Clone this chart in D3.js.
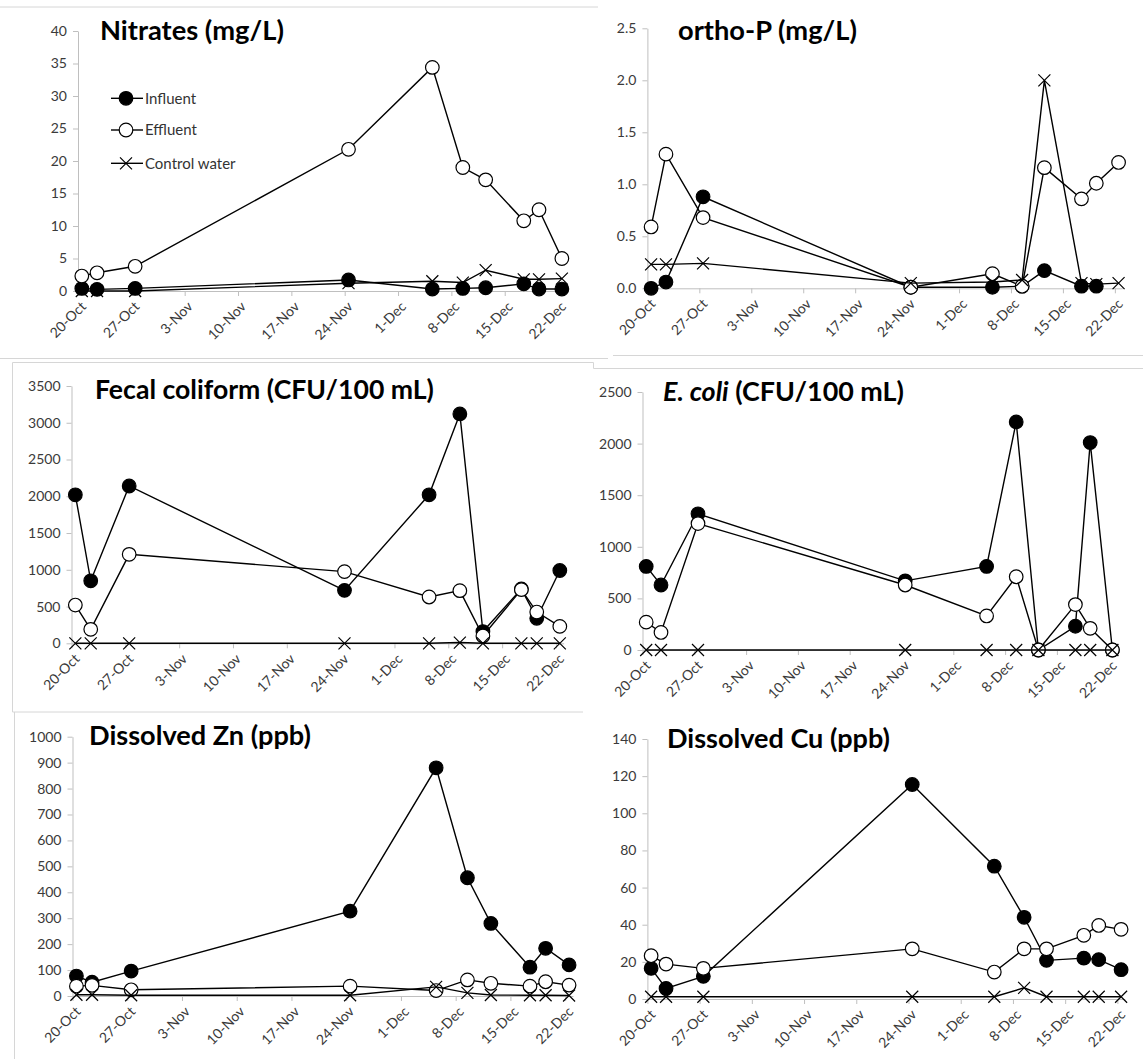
<!DOCTYPE html>
<html>
<head>
<meta charset="utf-8">
<script src="https://cdn.jsdelivr.net/npm/d3@7"></script>
<style>
  body { margin: 0; background: #fff; }
  svg { display: block; }
</style>
</head>
<body>
<svg id="fig" width="1143" height="1059"></svg>
<script>
// ── data ──────────────────────────────────────────
const sampleDates = ['20-Oct', '22-Oct', '27-Oct', '24-Nov', '5-Dec', '9-Dec', '12-Dec', '17-Dec', '19-Dec', '22-Dec'];
const tickDates   = ['20-Oct', '27-Oct', '3-Nov', '10-Nov', '17-Nov', '24-Nov', '1-Dec', '8-Dec', '15-Dec', '22-Dec'];
const seriesNames = ['Influent', 'Effluent', 'Control water'];

const nitratesInfluent = [0.4, 0.25, 0.4, 1.7, 0.3, 0.4, 0.5, 1.1, 0.3, 0.3];
const nitratesEffluent = [2.3, 2.8, 3.8, 21.8, 34.4, 19.0, 17.1, 10.8, 12.5, 5.0];
const nitratesControl  = [0, 0, 0, 1.2, 1.5, 1.3, 3.2, 1.8, 1.8, 1.9];

const orthoPInfluent = [0.0, 0.06, 0.88, 0.01, 0.01, 0.02, 0.17, 0.02, 0.02, null];
const orthoPEffluent = [0.59, 1.29, 0.68, 0.01, 0.14, 0.02, 1.16, 0.86, 1.01, 1.21];
const orthoPControl  = [0.23, 0.23, 0.24, 0.05, 0.06, 0.08, 2.0, 0.05, 0.04, 0.05];

const fecalInfluent = [2020, 850, 2140, 720, 2020, 3120, 160, 740, 340, 990];
const fecalEffluent = [520, 190, 1210, 975, 630, 716, 100, 730, 425, 230];
const fecalControl  = [0, 0, 0, 0, 0, 10, 0, 0, 0, 0];

const ecoliInfluent = [810, 630, 1320, 670, 810, 2210, 0, 230, 2010, 0];
const ecoliEffluent = [270, 170, 1225, 630, 330, 710, 0, 440, 210, 0];
const ecoliControl  = [0, 0, 0, 0, 0, 0, 0, 0, 0, 0];

const znInfluent = [77, 53, 96, 327, 880, 456, 280, 111, 184, 120];
const znEffluent = [38, 41, 24, 38, 21, 62, 49, 38, 55, 42];
const znControl  = [5, 5, 3, 3, 35, 12, 4, 3, 3, 2];

const cuInfluent = [16.5, 5.7, 12.2, 115.5, 71.5, 44, 20.8, 22, 21.2, 15.8];
const cuEffluent = [23.3, 18.8, 16.5, 27, 14.5, 27, 27, 34.3, 39.6, 37.5];
const cuControl  = [1.2, 1.2, 1.2, 1.2, 1.2, 6, 1.2, 1.2, 1.2, 1.2];

// ── layout ────────────────────────────────────────
const panels = [
  { title: ['Nitrates (mg/L)'], series: [nitratesInfluent, nitratesEffluent, nitratesControl],
    x0: 78, perDay: 7.62, yTop: 31, yBot: 291, yMax: 40, yStep: 5, fmt: 'd',
    tx: 100, ty: 40, tw: 184, legend: true },
  { title: ['ortho-P (mg/L)'], series: [orthoPInfluent, orthoPEffluent, orthoPControl],
    x0: 647.4, perDay: 7.42, yTop: 28.3, yBot: 288.3, yMax: 2.5, yStep: 0.5, fmt: '.1f',
    tx: 678, ty: 39.5, tw: 179 },
  { title: ['Fecal coliform (CFU/100 mL)'], series: [fecalInfluent, fecalEffluent, fecalControl],
    x0: 71.5, perDay: 7.69, yTop: 386, yBot: 643.3, yMax: 3500, yStep: 500, fmt: 'd',
    tx: 95, ty: 398.5, tw: 339 },
  { title: ['E. coli', ' (CFU/100 mL)'], series: [ecoliInfluent, ecoliEffluent, ecoliControl],
    x0: 642.5, perDay: 7.40, yTop: 392, yBot: 650, yMax: 2500, yStep: 500, fmt: 'd',
    tx: 663, ty: 401, tw: 241 },
  { title: ['Dissolved Zn (ppb)'], series: [znInfluent, znEffluent, znControl],
    x0: 72.5, perDay: 7.82, yTop: 736.7, yBot: 996, yMax: 1000, yStep: 100, fmt: 'd',
    tx: 89, ty: 745, tw: 222 },
  { title: ['Dissolved Cu (ppb)'], series: [cuInfluent, cuEffluent, cuControl],
    x0: 647.4, perDay: 7.46, yTop: 739, yBot: 999, yMax: 140, yStep: 20, fmt: 'd',
    tx: 667, ty: 747.5, tw: 223 },
];

// faint chart-area borders peeking out between the pasted charts
const frameLines = [
  [[0, 7], [598, 7]],
  [[0, 358.5], [608, 358.5]],
  [[613, 355.5], [1143, 355.5]],
  [[12.5, 362.5], [593.5, 362.5]],
  [[593.5, 362.5], [593.5, 368.5]],
  [[593.5, 368.5], [1143, 368.5]],
  [[12.5, 362.5], [12.5, 712]],
  [[12.5, 712], [583, 712]],
  [[14.5, 712], [14.5, 1059]],
];

const FONT = 'Lato, "Open Sans", sans-serif';
const AXIS = '#bfbfbf';
const LABEL = '#3a3a3a';

const parseDay = s => d3.utcParse('%d-%b-%Y')(s + '-2013');
const halfDay = d => d3.utcHour.offset(d, 12);
const dates = sampleDates.map(parseDay);
const ticks = tickDates.map(parseDay);

const svg = d3.select('#fig');

svg.append('g').selectAll('path').data(frameLines).join('path')
  .attr('d', d => d3.line()(d))
  .attr('fill', 'none').attr('stroke', '#d6d6d6').attr('stroke-width', 1);

function drawMarker(g, kind) {
  if (kind === 2) {
    g.append('path').attr('d', 'M-6,-6L6,6M-6,6L6,-6')
      .attr('stroke', '#000').attr('stroke-width', 1.2).attr('fill', 'none');
  } else {
    g.append('circle').attr('r', 6.8)
      .attr('fill', kind === 0 ? '#000' : '#fff')
      .attr('stroke', '#000').attr('stroke-width', 1.2);
  }
}

panels.forEach(p => {
  const g = svg.append('g');
  const start = parseDay('20-Oct');
  const end = d3.utcDay.offset(parseDay('22-Dec'), 1);
  const x = d3.scaleUtc().domain([start, end]).range([p.x0, p.x0 + 64 * p.perDay]);
  const y = d3.scaleLinear().domain([0, p.yMax]).range([p.yBot, p.yTop]);
  const yTicks = d3.range(0, p.yMax + p.yStep / 2, p.yStep);

  // y axis
  const ya = g.append('g').attr('transform', `translate(${p.x0},0)`)
    .call(d3.axisLeft(y).tickValues(yTicks).tickSize(5).tickSizeOuter(0).tickPadding(6)
      .tickFormat(d3.format(p.fmt)));
  ya.select('.domain').attr('stroke', AXIS);
  ya.selectAll('.tick line').attr('stroke', AXIS);
  ya.selectAll('.tick text').attr('font-family', FONT).attr('font-size', 14).attr('fill', LABEL);

  // x axis
  const xa = g.append('g').attr('transform', `translate(0,${p.yBot})`)
    .call(d3.axisBottom(x).tickValues(ticks).tickSize(5).tickSizeOuter(0)
      .tickFormat(d3.utcFormat('%-d-%b')));
  xa.select('.domain').attr('stroke', AXIS);
  xa.selectAll('.tick line').attr('stroke', AXIS);
  xa.selectAll('.tick text')
    .attr('font-family', FONT).attr('font-size', 14).attr('fill', LABEL)
    .attr('x', 0).attr('y', 0).attr('dy', '0.35em')
    .attr('text-anchor', 'end')
    .attr('transform', 'translate(5,13) rotate(-45)');

  // series: line then markers, in series order
  p.series.forEach((vals, k) => {
    const pts = vals.map((v, i) => ({ d: halfDay(dates[i]), v })).filter(o => o.v !== null);
    g.append('path').datum(pts)
      .attr('d', d3.line().x(o => x(o.d)).y(o => y(o.v)))
      .attr('fill', 'none').attr('stroke', '#000').attr('stroke-width', 1.4);
    g.append('g').selectAll('g').data(pts).join('g')
      .attr('transform', o => `translate(${x(o.d)},${y(o.v)})`)
      .each(function () { drawMarker(d3.select(this), k); });
  });

  // title
  const t = g.append('text').attr('x', p.tx).attr('y', p.ty)
    .attr('font-family', FONT).attr('font-weight', 700).attr('font-size', 24).attr('fill', '#000');
  p.title.forEach((s, i) => {
    t.append('tspan').text(s).attr('font-style', p.title.length > 1 && i === 0 ? 'italic' : null);
  });
  const w = t.node().getComputedTextLength();
  t.attr('font-size', 24 * p.tw / w);

  // legend (first chart only)
  if (p.legend) {
    const rows = [98.3, 130, 163.3];
    seriesNames.forEach((name, k) => {
      const lg = g.append('g').attr('transform', `translate(0,${rows[k]})`);
      lg.append('line').attr('x1', 111).attr('x2', 143)
        .attr('stroke', '#000').attr('stroke-width', 1.4);
      drawMarker(lg.append('g').attr('transform', 'translate(126,0)'), k);
      lg.append('text').attr('x', 145).attr('dy', '0.35em')
        .attr('font-family', FONT).attr('font-size', 15).attr('fill', '#333').text(name);
    });
  }
});
</script>
</body>
</html>
